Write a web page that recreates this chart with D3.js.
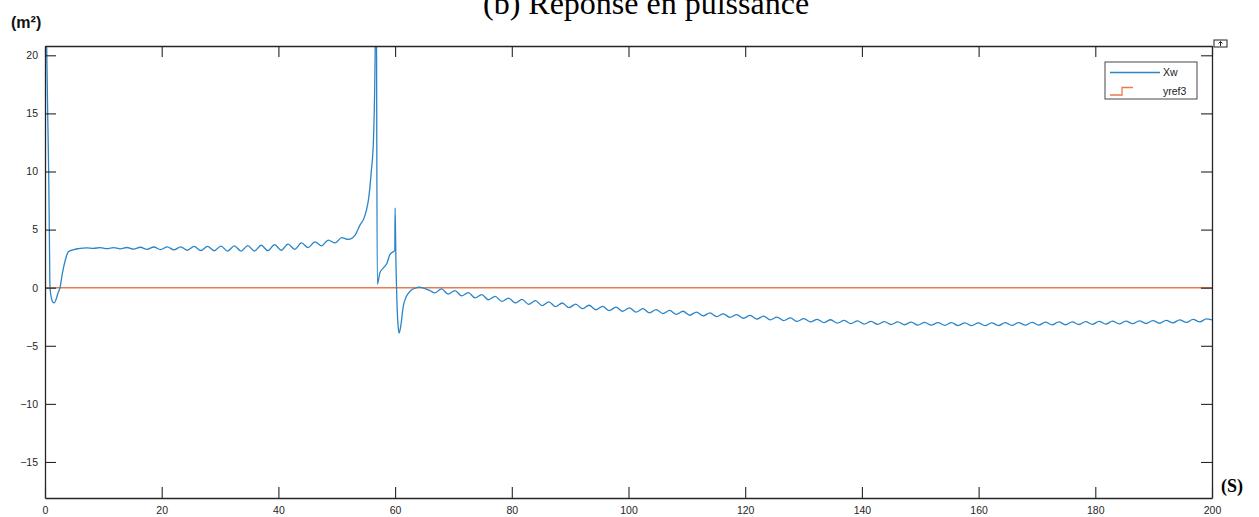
<!DOCTYPE html>
<html lang="fr">
<head>
<meta charset="UTF-8">
<title>Réponse en puissance</title>
<script src="https://cdnjs.cloudflare.com/ajax/libs/d3/7.8.5/d3.min.js"></script>
<style>
  body { margin: 0; background: #fff; }
  svg { display: block; }
  .tick text { font-family: "Liberation Sans", Arial, sans-serif; font-size: 10.5px; fill: #262626; }
</style>
</head>
<body>
<svg id="chart" width="1259" height="517"></svg>
<script>
// time (s) and Xw values
const timeS = [
  0, 0.29, 0.46, 0.63, 0.74, 0.86, 1.1, 1.35, 1.6, 1.9, 2.2, 2.57, 3.0, 3.5, 4.0, 4.8, 5.6,
  6.0, 7.15, 8.3, 9.45, 10.6, 11.75, 12.9, 14.05, 15.2, 16.35, 17.5, 18.65, 19.8, 20.95,
  22.1, 23.25, 24.4, 25.55, 26.7, 27.85, 29.0, 30.15, 31.3, 32.45, 33.6, 34.75, 35.9, 37.05,
  38.2, 39.35, 40.5, 41.65, 42.8, 43.95, 45.1, 46.25, 47.4, 48.55, 49.7, 50.85, 52.0, 53.1,
  54.0, 54.6, 55.1, 55.5, 55.9, 56.3, 56.5, 56.6, 56.75, 56.95,
  57.4, 58.0, 58.6, 59.1, 59.7, 59.95, 60.0, 60.15, 60.3, 60.5, 60.7, 61.0, 61.4, 61.8,
  62.3, 62.8, 63.4, 64.1, 65.0, 66.0,
  66.8, 67.95, 69.1, 70.25, 71.4, 72.55, 73.7, 74.85, 76.0, 77.15, 78.3, 79.45, 80.6, 81.75,
  82.9, 84.05, 85.2, 86.35, 87.5, 88.65, 89.8, 90.95, 92.1, 93.25, 94.4, 95.55, 96.7, 97.85,
  99.0, 100.15, 101.3, 102.45, 103.6, 104.75, 105.9, 107.05, 108.2, 109.35, 110.5, 111.65,
  112.8, 113.95, 115.1, 116.25, 117.4, 118.55, 119.7, 120.85, 122.0, 123.15, 124.3, 125.45,
  126.6, 127.75, 128.9, 130.05, 131.2, 132.35, 133.5, 134.65, 135.8, 136.95, 138.1, 139.25,
  140.4, 141.55, 142.7, 143.85, 145.0, 146.15, 147.3, 148.45, 149.6, 150.75, 151.9, 153.05,
  154.2, 155.35, 156.5, 157.65, 158.8, 159.95, 161.1, 162.25, 163.4, 164.55, 165.7, 166.85,
  168.0, 169.15, 170.3, 171.45, 172.6, 173.75, 174.9, 176.05, 177.2, 178.35, 179.5, 180.65,
  181.8, 182.95, 184.1, 185.25, 186.4, 187.55, 188.7, 189.85, 191.0, 192.15, 193.3, 194.45,
  195.6, 196.75, 197.9, 199.05, 200.0
];
const xw = [
  30, 20.8, 15, 10, 5, 0, -0.9, -1.25, -1.3, -1.0, -0.5, 0, 1.3, 2.4, 3.1, 3.25, 3.35,
  3.38, 3.42, 3.38, 3.45, 3.36, 3.45, 3.34, 3.46, 3.32, 3.48, 3.3, 3.5, 3.28, 3.52,
  3.25, 3.52, 3.22, 3.55, 3.2, 3.56, 3.18, 3.58, 3.15, 3.6, 3.15, 3.62, 3.15, 3.65,
  3.18, 3.7, 3.22, 3.75, 3.3, 3.85, 3.45, 3.95, 3.6, 4.1, 3.85, 4.3, 4.15, 4.5,
  5.4, 5.9, 6.7, 7.8, 9.9, 12.8, 17.1, 20.8, 30, 0.3,
  1.3, 1.7, 2.1, 2.84, 3.1, 3.2, 6.87, 2.0, -1.0, -3.2, -3.9, -3.2, -1.6, -0.9,
  -0.46, -0.2, -0.05, 0.05, -0.05, -0.25,
  -0.45, -0.1, -0.55, -0.25, -0.7, -0.42, -0.88, -0.6, -1.04, -0.75, -1.18, -0.89, -1.31, -1.01,
  -1.43, -1.12, -1.54, -1.22, -1.63, -1.32, -1.72, -1.41, -1.81, -1.51, -1.9, -1.6, -1.97, -1.68,
  -2.03, -1.74, -2.1, -1.81, -2.16, -1.89, -2.23, -1.96, -2.3, -2.03, -2.37, -2.1,
  -2.43, -2.17, -2.49, -2.25, -2.56, -2.32, -2.63, -2.39, -2.7, -2.45, -2.77, -2.53,
  -2.83, -2.6, -2.9, -2.67, -2.95, -2.72, -3.0, -2.76, -3.05, -2.81, -3.09, -2.86,
  -3.13, -2.9, -3.15, -2.92, -3.17, -2.94, -3.19, -2.96, -3.22, -2.98, -3.23, -3.0,
  -3.24, -3.01, -3.26, -3.02, -3.27, -3.03, -3.27, -3.02, -3.26, -3.01, -3.25, -3.0,
  -3.23, -2.98, -3.22, -2.97, -3.2, -2.95, -3.19, -2.94, -3.17, -2.92, -3.15, -2.9,
  -3.13, -2.88, -3.12, -2.87, -3.1, -2.85, -3.08, -2.83, -3.06, -2.81, -3.03, -2.77,
  -2.99, -2.73, -2.95, -2.68, -2.78
];
// reference signal yref3
const refT = [0, 200];
const yref3 = [0, 0];

const xTicks = [0, 20, 40, 60, 80, 100, 120, 140, 160, 180, 200];
const yTicks = [-15, -10, -5, 0, 5, 10, 15, 20];
const xDomain = [0, 200];
const yDomain = [-18.1, 20.8];

const svg = d3.select('#chart');
const plotLeft = 45, plotRight = 1212, plotTop = 46, plotBottom = 498;

const x = d3.scaleLinear().domain(xDomain).range([plotLeft, plotRight]);
const y = d3.scaleLinear().domain(yDomain).range([plotBottom, plotTop]);

svg.append('defs').append('clipPath').attr('id', 'plotClip')
  .append('rect').attr('x', plotLeft).attr('y', plotTop)
  .attr('width', plotRight - plotLeft).attr('height', plotBottom - plotTop);

// title (partly cut at the top, as in the source)
svg.append('text')
  .attr('x', 483).attr('y', 14)
  .attr('font-family', '"Liberation Serif", "Times New Roman", serif')
  .attr('font-size', 32).attr('fill', '#000')
  .text('(b)  Réponse en puissance');

svg.append('text')
  .attr('x', 11).attr('y', 28)
  .attr('font-family', '"Liberation Sans", Arial, sans-serif')
  .attr('font-weight', 'bold').attr('font-size', 16).attr('fill', '#111')
  .text('(m²)');

svg.append('text')
  .attr('x', 1221).attr('y', 492)
  .attr('font-family', '"Liberation Serif", "Times New Roman", serif')
  .attr('font-weight', 'bold').attr('font-size', 18).attr('fill', '#000')
  .text('(S)');

// lines
const plot = svg.append('g').attr('clip-path', 'url(#plotClip)');

plot.append('path')
  .datum(refT.map((t, i) => [t, yref3[i]]))
  .attr('fill', 'none').attr('stroke', '#ec7a4a').attr('stroke-width', 1.4)
  .attr('d', d3.line().x(d => x(d[0])).y(d => y(d[1])));

plot.append('path')
  .datum(timeS.map((t, i) => [t, xw[i]]))
  .attr('fill', 'none').attr('stroke', '#2a85c8').attr('stroke-width', 1.3)
  .attr('stroke-linejoin', 'round')
  .attr('d', d3.line().x(d => x(d[0])).y(d => y(d[1])).curve(d3.curveMonotoneX));

// axes (box style, ticks pointing inward)
const tickLen = 11;
const styleAxis = g => {
  g.select('.domain').attr('stroke', '#262626').attr('stroke-width', 1.3);
  g.selectAll('.tick line').attr('stroke', '#262626').attr('stroke-width', 1.1);
};

svg.append('g').attr('transform', `translate(0,${plotBottom})`)
  .call(d3.axisBottom(x).tickValues(xTicks).tickSize(-tickLen).tickSizeOuter(0).tickPadding(6))
  .call(styleAxis)
  .call(g => g.selectAll('.tick text').attr('dy', '0.95em'));

svg.append('g').attr('transform', `translate(${plotLeft},0)`)
  .call(d3.axisLeft(y).tickValues(yTicks).tickSize(-tickLen).tickSizeOuter(0).tickPadding(7))
  .call(styleAxis);

svg.append('g').attr('transform', `translate(0,${plotTop})`)
  .call(d3.axisTop(x).tickValues(xTicks).tickSize(-tickLen).tickSizeOuter(0).tickFormat(''))
  .call(styleAxis);

svg.append('g').attr('transform', `translate(${plotRight},0)`)
  .call(d3.axisRight(y).tickValues(yTicks).tickSize(-tickLen).tickSizeOuter(0).tickFormat(''))
  .call(styleAxis);

// small figure toolbar icon at the top right corner
const icon = svg.append('g').attr('transform', 'translate(1214,40)');
icon.append('rect').attr('width', 13).attr('height', 7)
  .attr('fill', '#fff').attr('stroke', '#222').attr('stroke-width', 1);
icon.append('path').attr('d', 'M6.5,1.5 L6.5,6 M4.5,3.5 L6.5,1.5 L8.5,3.5')
  .attr('fill', 'none').attr('stroke', '#222').attr('stroke-width', 1);

// legend
const legend = svg.append('g');
legend.append('rect')
  .attr('x', 1105).attr('y', 62).attr('width', 92).attr('height', 37)
  .attr('fill', '#fff').attr('stroke', '#333').attr('stroke-width', 0.9);
legend.append('line')
  .attr('x1', 1110).attr('x2', 1160).attr('y1', 72.5).attr('y2', 72.5)
  .attr('stroke', '#2a85c8').attr('stroke-width', 1.3);
legend.append('path')
  .attr('d', 'M1110,95 L1122,95 L1122,87.5 L1133,87.5')
  .attr('fill', 'none').attr('stroke', '#ec7a4a').attr('stroke-width', 1.3);
const legendFont = '"Liberation Sans", Arial, sans-serif';
legend.append('text').attr('x', 1163).attr('y', 76)
  .attr('font-family', legendFont).attr('font-size', 10.5).attr('fill', '#222').text('Xw');
legend.append('text').attr('x', 1163).attr('y', 94.5)
  .attr('font-family', legendFont).attr('font-size', 10.5).attr('fill', '#222').text('yref3');
</script>
</body>
</html>
